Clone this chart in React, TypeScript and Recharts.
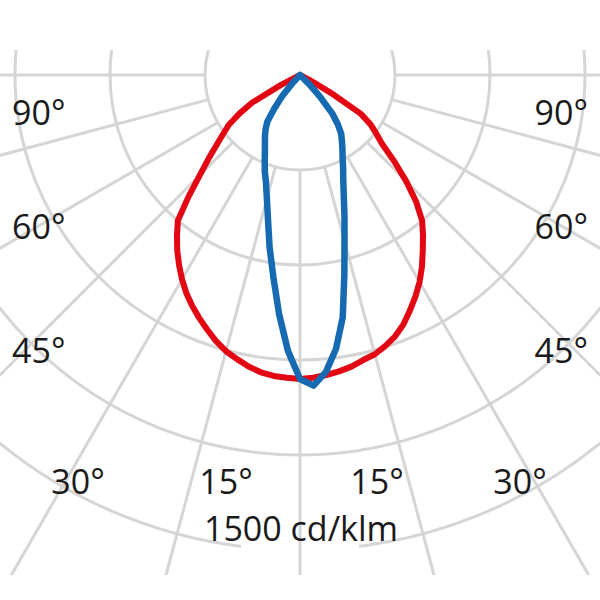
import { PolarAngleAxis, PolarGrid, PolarRadiusAxis, Radar, RadarChart } from "recharts";

// gamma = angle from nadir in degrees, negative values on the left half
const gammaAngles = [
  -90, -65, -62.5, -60, -57.5, -55, -52.5, -50, -47.5, -45, -42.5, -40, -37.5, -35,
  -32.5, -30, -27.5, -25, -22.5, -20, -17.5, -15, -12.5, -10, -7.5, -5, -2.5, 0,
  2.5, 5, 7.5, 10, 12.5, 15, 17.5, 20, 22.5, 25, 27.5, 30, 32.5, 35, 37.5, 40,
  42.5, 45, 47.5, 50, 52.5, 55, 57.5, 60, 62.5, 65, 90,
];

// cd/klm, wide plane (red)
const redIntensity = [
  0, 0, 69, 174, 227, 275, 306, 344, 392, 448, 521, 600, 638, 676,
  711, 745, 777, 805, 831, 856, 881, 903, 919, 935, 947, 954, 957, 960,
  957, 951, 944, 935, 922, 913, 897, 878, 853, 821, 789, 755, 717, 676, 638, 600,
  543, 474, 404, 338, 303, 272, 227, 111, 32, 0, 0,
];

// cd/klm, narrow plane (blue)
const blueIntensity = [
  0, 0, 0, 0, 0, 0, 0, 0, 0, 0, 38, 88, 133, 180,
  202, 221, 240, 262, 291, 325, 357, 404, 467, 553, 644, 758, 872, 960,
  982, 941, 872, 777, 647, 543, 467, 404, 357, 322, 291, 268, 246, 227, 196, 158,
  95, 44, 0, 0, 0, 0, 0, 0, 0, 0, 0,
];

const ringValues = [300, 600, 900, 1200, 1500];
const gridGammas = [-90, -75, -60, -45, -30, -15, 0, 15, 30, 45, 60, 75, 90];
const sideLabels = ["90°", "60°", "45°"];
const bottomLabels = ["30°", "15°", "15°", "30°"];
const unitLabel = "1500 cd/klm";

const data = gammaAngles.map((gamma, i) => ({
  gamma,
  red: redIntensity[i],
  blue: blueIntensity[i],
}));

const W = 600;
const H = 525;
const CX = 300;
const CY = 25;
const R_MAX = 475;
const MAX_VALUE = 1500;
const GRID = "#d5d5d5";
const RED = "#e30613";
const BLUE = "#166ab2";
const MARGIN = { top: 0, right: 0, bottom: 0, left: 0 };
const FONT = "'Open Sans', 'Noto Sans', sans-serif";

const layer: React.CSSProperties = { position: "absolute", left: 0, top: 50, width: W, height: H };

function Axes() {
  return (
    <>
      <PolarAngleAxis
        dataKey="gamma"
        type="number"
        domain={[-90, 90]}
        tick={false}
        axisLine={false}
        tickLine={false}
      />
      <PolarRadiusAxis
        type="number"
        domain={[0, MAX_VALUE]}
        tick={false}
        axisLine={false}
        tickLine={false}
      />
    </>
  );
}

const sideY = [125, 239, 363];
const bottomX = [78, 226, 377, 520];

export default function App() {
  return (
    <div
      style={{
        position: "fixed",
        left: 0,
        top: 0,
        width: 600,
        height: 600,
        background: "#fff",
        overflow: "hidden",
      }}
    >
      {/* rings */}
      <div style={layer}>
        <RadarChart
          width={W}
          height={H}
          cx={CX}
          cy={CY}
          outerRadius={R_MAX}
          startAngle={-180}
          endAngle={0}
          data={data}
          margin={MARGIN}
        >
          <PolarGrid
            gridType="circle"
            radialLines={false}
            polarAngles={[]}
            polarRadius={ringValues.map((v) => (v / MAX_VALUE) * R_MAX)}
            stroke={GRID}
            strokeWidth={3}
            fill="none"
          />
          {Axes()}
        </RadarChart>
      </div>

      {/* gap in the outer ring behind the unit label */}
      <svg style={{ position: "absolute", left: 0, top: 0 }} width={600} height={600}>
        <rect x={241} y={536} width={118} height={20} fill="#fff" />
      </svg>

      {/* spokes, starting at the first ring */}
      <div style={layer}>
        <RadarChart
          width={W}
          height={H}
          cx={CX}
          cy={CY}
          innerRadius={94}
          outerRadius={800}
          startAngle={-180}
          endAngle={0}
          data={data}
          margin={MARGIN}
        >
          <PolarGrid
            gridType="circle"
            polarRadius={[]}
            polarAngles={gridGammas.map((g) => g - 90)}
            stroke={GRID}
            strokeWidth={3}
          />
          {Axes()}
        </RadarChart>
      </div>

      {/* curves */}
      <div style={layer}>
        <RadarChart
          width={W}
          height={H}
          cx={CX}
          cy={CY}
          outerRadius={R_MAX}
          startAngle={-180}
          endAngle={0}
          data={data}
          margin={MARGIN}
        >
          {Axes()}
          <Radar
            dataKey="red"
            stroke={RED}
            strokeWidth={6}
            strokeLinejoin="round"
            fill="none"
            fillOpacity={0}
            dot={false}
            isAnimationActive={false}
          />
          <Radar
            dataKey="blue"
            stroke={BLUE}
            strokeWidth={6.5}
            strokeLinejoin="round"
            fill="none"
            fillOpacity={0}
            dot={false}
            isAnimationActive={false}
          />
        </RadarChart>
      </div>

      <svg style={{ position: "absolute", left: 0, top: 0 }} width={600} height={600}>
        <g fontFamily={FONT} fontSize={34} fill="#1a1a1a">
          {sideLabels.map((t, i) => (
            <text key={"l" + i} x={12} y={sideY[i]}>
              {t}
            </text>
          ))}
          {sideLabels.map((t, i) => (
            <text key={"r" + i} x={588} y={sideY[i]} textAnchor="end">
              {t}
            </text>
          ))}
          {bottomLabels.map((t, i) => (
            <text key={"b" + i} x={bottomX[i]} y={494} textAnchor="middle">
              {t}
            </text>
          ))}
          <text x={301} y={541} textAnchor="middle">
            {unitLabel}
          </text>
        </g>
      </svg>
    </div>
  );
}
